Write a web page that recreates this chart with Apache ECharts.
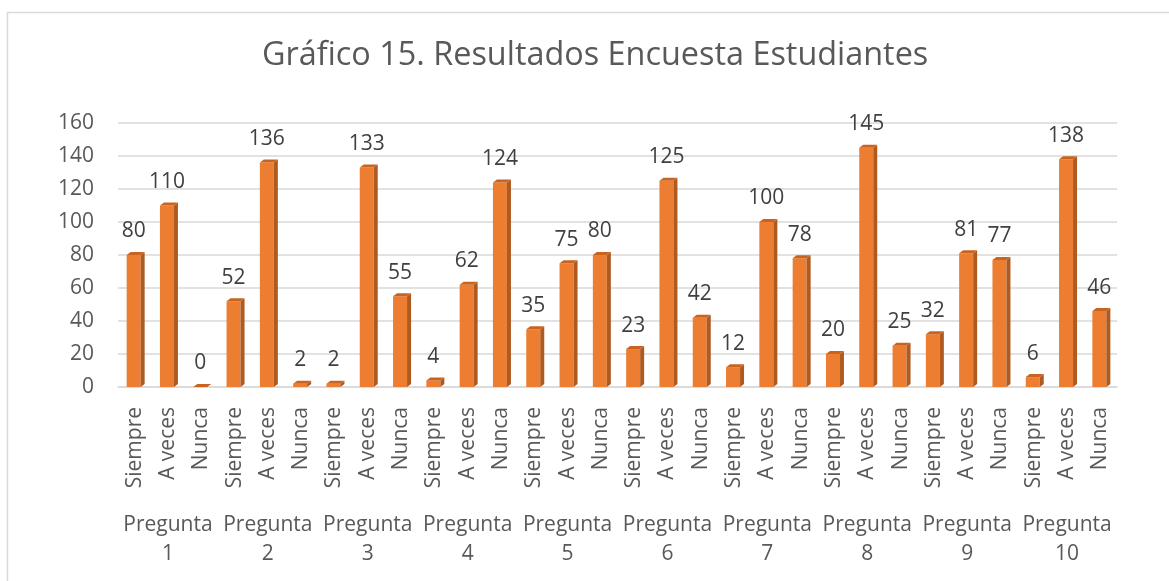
<!DOCTYPE html>
<html>
<head>
<meta charset="utf-8">
<script src="https://cdn.jsdelivr.net/npm/echarts@6/dist/echarts.min.js"></script>
<style>
  html, body { margin: 0; padding: 0; background: #fff; }
  #chart { width: 1169px; height: 581px; }
</style>
</head>
<body>
<div id="chart"></div>
<script>
  // respuestas por pregunta
  const respuestas = ['Siempre', 'A veces', 'Nunca'];
  const preguntas = ['Pregunta\n1', 'Pregunta\n2', 'Pregunta\n3', 'Pregunta\n4', 'Pregunta\n5',
    'Pregunta\n6', 'Pregunta\n7', 'Pregunta\n8', 'Pregunta\n9', 'Pregunta\n10'];
  const valores = [80, 110, 0, 52, 136, 2, 2, 133, 55, 4, 62, 124, 35, 75, 80,
    23, 125, 42, 12, 100, 78, 20, 145, 25, 32, 81, 77, 6, 138, 46];
  const yTicks = [0, 20, 40, 60, 80, 100, 120, 140, 160];

  // 30 categorias: Siempre / A veces / Nunca repetido por pregunta
  const categorias = [];
  preguntas.forEach(function () {
    respuestas.forEach(function (r) { categorias.push(r); });
  });

  const textColor = '#595959';
  const fontFam = '"Open Sans", sans-serif';

  let myChart = echarts.init(document.getElementById('chart'));

  // barra "3D": cara frontal, lateral y superior
  function renderBar(params, api) {
    const idx = api.value(0);
    const val = api.value(1);
    const top = api.coord([idx, val]);
    const base = api.coord([idx, 0]);
    const w = 14, d = 4, h = 3;
    const x0 = top[0] - (w + d) / 2 + 1;
    const x1 = x0 + w;
    const yt = top[1], yb = base[1];
    return {
      type: 'group',
      children: [
        { type: 'rect', shape: { x: x0, y: yt, width: w, height: yb - yt },
          style: { fill: '#ED7D31' } },
        { type: 'polygon', shape: { points: [[x1, yt], [x1 + d, yt - h], [x1 + d, yb - h], [x1, yb]] },
          style: { fill: '#AE5A21' } },
        { type: 'polygon', shape: { points: [[x0, yt], [x0 + d, yt - h], [x1 + d, yt - h], [x1, yt]] },
          style: { fill: '#C8641F' } },
        { type: 'text', x: x0 + (w + d) / 2 - 2, y: yt - 13,
          style: { text: String(val), fill: '#404040', font: '21px ' + fontFam,
            align: 'center', verticalAlign: 'bottom' } }
      ]
    };
  }

  let option = {
    backgroundColor: '#fff',
    animation: false,
    title: {
      text: 'Gráfico 15. Resultados Encuesta Estudiantes',
      left: 257,
      top: 35,
      textStyle: { color: textColor, fontSize: 32.4, fontWeight: 'normal', fontFamily: fontFam }
    },
    graphic: [{
      type: 'rect',
      shape: { x: 7.5, y: 12.5, width: 1200, height: 700 },
      style: { fill: 'none', stroke: '#D9D9D9', lineWidth: 1.5 },
      silent: true
    }],
    grid: { left: 118, right: 52, top: 123, bottom: 194 },
    xAxis: [{
      type: 'category',
      data: categorias,
      axisLine: { show: true, lineStyle: { color: '#D9D9D9', width: 1.5 } },
      axisTick: { show: false },
      axisLabel: { rotate: 90, interval: 0, margin: 20, color: textColor, fontSize: 21, fontFamily: fontFam }
    }, {
      type: 'category',
      data: preguntas,
      position: 'bottom',
      offset: 124,
      axisLine: { show: false },
      axisTick: { show: false },
      axisLabel: { interval: 0, margin: 0, color: textColor, fontSize: 21, lineHeight: 29, fontFamily: fontFam }
    }],
    yAxis: {
      type: 'value',
      min: yTicks[0],
      max: yTicks[yTicks.length - 1],
      interval: 20,
      axisLine: { show: false },
      axisTick: { show: false },
      axisLabel: { margin: 24, color: textColor, fontSize: 21, fontFamily: fontFam },
      splitLine: { lineStyle: { color: '#D9D9D9', width: 1.5 } }
    },
    series: [{
      type: 'custom',
      xAxisIndex: 0,
      renderItem: renderBar,
      encode: { x: 0, y: 1 },
      data: valores.map(function (v, i) { return [i, v]; }),
      z: 3
    }]
  };
  myChart.setOption(option);
</script>
</body>
</html>
